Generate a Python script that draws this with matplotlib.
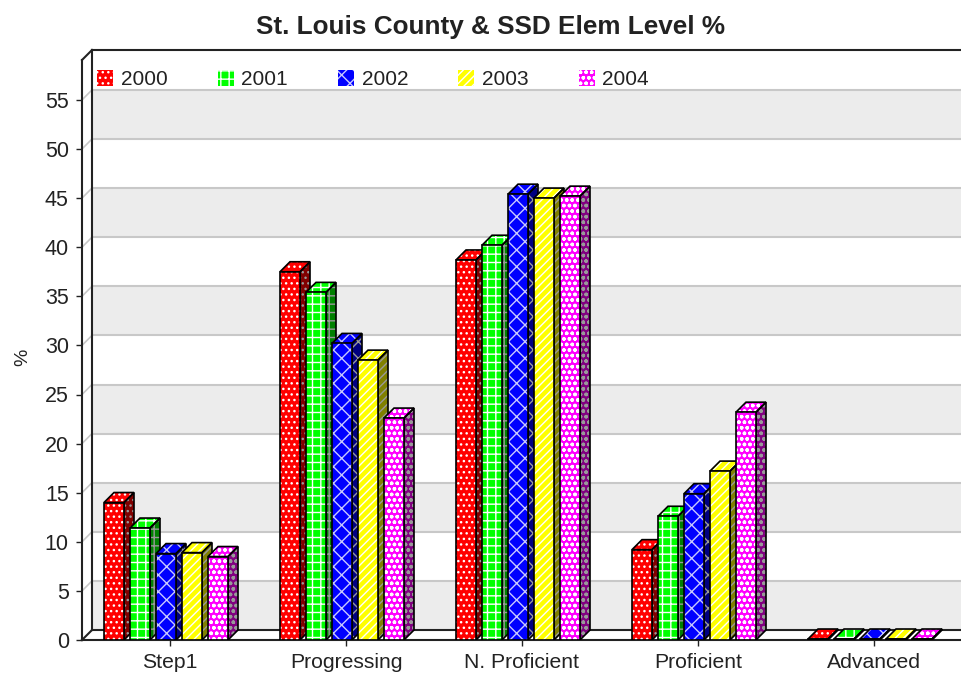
import numpy as np
import matplotlib
matplotlib.use('Agg')
import matplotlib.pyplot as plt
from matplotlib.patches import Patch

plt.rcParams['font.family'] = ['Liberation Sans', 'DejaVu Sans']
plt.rcParams['hatch.linewidth'] = 1.0

categories = ['Step1', 'Progressing', 'N. Proficient', 'Proficient', 'Advanced']
years = ['2000', '2001', '2002', '2003', '2004']
v2000 = [14.0, 37.5, 38.7, 9.2, 0.1]
v2001 = [11.4, 35.4, 40.2, 12.6, 0.1]
v2002 = [8.8, 30.2, 45.4, 14.9, 0.1]
v2003 = [8.9, 28.5, 45.0, 17.2, 0.1]
v2004 = [8.5, 22.6, 45.2, 23.2, 0.1]
series = [v2000, v2001, v2002, v2003, v2004]
yticks = list(range(0, 60, 5))

colors = ['#ff0000', '#00ff00', '#0000ff', '#ffff00', '#ff00ff']
dark = ['#800000', '#008000', '#000080', '#808000', '#800080']
hatch_cols = ['white', 'white', '#c8c8ff', 'white', 'white']
hatches = ['...', '++', 'xx', '////', 'ooo']

W, H = 961, 675
PX_X = 176.0      # pixels per category
PX_Y = 9.82       # pixels per %
fig = plt.figure(figsize=(W / 100, H / 100), dpi=100)
ax = fig.add_axes([82 / W, (H - 640) / H, (W - 82) / W, 590 / H])
ax.set_xlim(-0.5, -0.5 + (W - 82) / PX_X)
ax.set_ylim(0, 590 / PX_Y)

dx = 10 / PX_X   # 3d depth
dy = 10 / PX_Y
xl, xr = ax.get_xlim()

# back wall
for lo in range(0, 55, 10):
    ax.fill([xl + dx, xr, xr, xl + dx], [lo + dy, lo + dy, lo + 5 + dy, lo + 5 + dy],
            color='#ececec', lw=0, zorder=1)
for t in yticks[1:]:
    ax.plot([xl + dx, xr], [t + dy, t + dy], color='#c8c8c8', lw=1.5, zorder=2)
    ax.plot([xl, xl + dx], [t, t + dy], color='#c8c8c8', lw=1.2, zorder=2)

# frame of the box
frame = dict(color='#222222', lw=1.5, zorder=3, clip_on=False, solid_capstyle='projecting')
ax.plot([xl + dx, xl + dx], [dy, 590 / PX_Y], **frame)
ax.plot([xl + dx, xr], [590 / PX_Y, 590 / PX_Y], **frame)
ax.plot([xl + dx, xr], [dy, dy], **frame)
ax.plot([xl, xl + dx], [0, dy], **frame)
ax.plot([xl, xl + dx], [590 / PX_Y - dy, 590 / PX_Y], **frame)

# bars
bar_w = 20 / PX_X
step = 26 / PX_X
x0 = -66 / PX_X
z = 10
for i, vals in enumerate(series):
    left = np.arange(len(categories)) + x0 + i * step
    for xb, v in zip(left, vals):
        ax.fill([xb + bar_w, xb + bar_w + dx, xb + bar_w + dx, xb + bar_w],
                [0, dy, v + dy, v], facecolor=dark[i], edgecolor='#999999',
                hatch=hatches[i], lw=0, zorder=z)
        ax.fill([xb + bar_w, xb + bar_w + dx, xb + bar_w + dx, xb + bar_w],
                [0, dy, v + dy, v], fill=False, edgecolor='black', lw=1.2, zorder=z + 1)
        ax.fill([xb, xb + dx, xb + bar_w + dx, xb + bar_w],
                [v, v + dy, v + dy, v], facecolor=colors[i], edgecolor=hatch_cols[i],
                hatch=hatches[i], lw=0, zorder=z)
        ax.fill([xb, xb + dx, xb + bar_w + dx, xb + bar_w],
                [v, v + dy, v + dy, v], fill=False, edgecolor='black', lw=1.2, zorder=z + 1)
    ax.bar(left, vals, bar_w, align='edge', color=colors[i], edgecolor=hatch_cols[i],
           hatch=hatches[i], lw=0, zorder=z + 2)
    ax.bar(left, vals, bar_w, align='edge', fill=False, edgecolor='black', lw=1.2, zorder=z + 3)
    z += 10

# axes
for s in ['top', 'right']:
    ax.spines[s].set_visible(False)
for s in ['left', 'bottom']:
    ax.spines[s].set_linewidth(1.5)
    ax.spines[s].set_color('#222222')
    ax.spines[s].set_zorder(5)
ax.spines['left'].set_bounds(0, 590 / PX_Y - dy)
ax.set_xticks(range(len(categories)))
ax.set_xticklabels(categories)
ax.set_yticks(yticks)
ax.tick_params(axis='both', length=4.5, width=1.0, color='#222222', labelcolor='#222222')
ax.tick_params(axis='x', labelsize=15.2, pad=5)
ax.tick_params(axis='y', labelsize=15.5, pad=5)
ax.set_ylabel('%', fontsize=14, color='#222222')
ax.yaxis.set_label_coords((31 - 82) / (W - 82), (640 - 357) / 590)

fig.text(491 / W, 1 - 27 / H, 'St. Louis County & SSD Elem Level %', fontsize=18.8,
         fontweight='bold', ha='center', va='center', color='#222222')

handles = [Patch(facecolor=colors[i], edgecolor=hatch_cols[i], hatch=hatches[i], lw=0, label=years[i])
           for i in range(5)]
ax.legend(handles=handles, ncol=5, frameon=False, fontsize=15, loc='upper left',
          bbox_to_anchor=(15 / (W - 82), 1 - 20 / 590), borderaxespad=0, borderpad=0,
          handlelength=0.77, handleheight=0.8, handletextpad=0.38, columnspacing=2.39,
          labelcolor='#222222')

fig.savefig('out.png', dpi=100)
